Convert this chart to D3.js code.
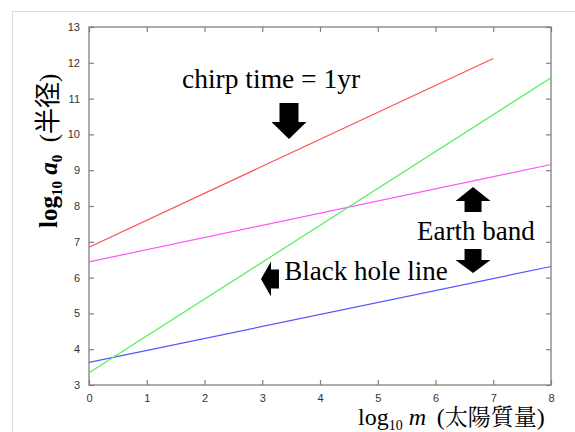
<!DOCTYPE html>
<html><head><meta charset="utf-8">
<script src="https://cdn.jsdelivr.net/npm/d3@7"></script>
<style>body{margin:0;background:#fff}svg{display:block}</style>
</head><body>
<script>
// ---- data ----
const xTicks = [0,1,2,3,4,5,6,7,8];
const yTicks = [3,4,5,6,7,8,9,10,11,12,13];
const chirpX = [0, 7],  chirpY = [6.85, 12.12];     // chirp time = 1yr (red)
const bandHiX = [0, 8], bandHiY = [6.44, 9.16];     // Earth band upper (magenta)
const bandLoX = [0, 8], bandLoY = [3.63, 6.31];     // Earth band lower (blue)
const bhX = [0, 8],     bhY = [3.34, 11.58];        // Black hole line (green)

const W = 575, H = 432;
const m = {l: 89, r: 551, t: 27, b: 385};
const svg = d3.select("body").append("svg").attr("width", W).attr("height", H);

svg.append("rect").attr("x", 12.5).attr("y", 11.5).attr("width", 700).attr("height", 600)
  .attr("fill", "none").attr("stroke", "#dcdcdc").attr("stroke-width", 1);

const x = d3.scaleLinear().domain([0, 8]).range([m.l, m.r]);
const y = d3.scaleLinear().domain([3, 13]).range([m.b, m.t]);

const axisColor = "#808080";
function styleAxis(g){
  g.select(".domain").remove();
  g.selectAll(".tick line").attr("stroke", axisColor).attr("stroke-width", 1.2);
  g.selectAll(".tick text").attr("fill", "#333").style("font-family", "'Liberation Sans', Arial, sans-serif").style("font-size", "11px");
}
svg.append("g").attr("transform", `translate(0,${m.b})`)
  .call(d3.axisBottom(x).tickValues(xTicks).tickSizeInner(-5).tickSizeOuter(0).tickPadding(9).tickFormat(d3.format("d")))
  .call(styleAxis);
svg.append("g").attr("transform", `translate(0,${m.t})`)
  .call(d3.axisTop(x).tickValues(xTicks).tickSizeInner(-5).tickSizeOuter(0).tickFormat(""))
  .call(styleAxis);
svg.append("g").attr("transform", `translate(${m.l},0)`)
  .call(d3.axisLeft(y).tickValues(yTicks).tickSizeInner(-5).tickSizeOuter(0).tickPadding(9).tickFormat(d3.format("d")))
  .call(styleAxis);
svg.append("g").attr("transform", `translate(${m.r},0)`)
  .call(d3.axisRight(y).tickValues(yTicks).tickSizeInner(-5).tickSizeOuter(0).tickFormat(""))
  .call(styleAxis);

svg.append("rect").attr("x", m.l).attr("y", m.t).attr("width", m.r - m.l).attr("height", m.b - m.t)
  .attr("fill", "none").attr("stroke", axisColor).attr("stroke-width", 1.3);

const line = d3.line().x(d => x(d[0])).y(d => y(d[1]));
const series = [
  {xs: chirpX, ys: chirpY, c: "#ff5050"},
  {xs: bandHiX, ys: bandHiY, c: "#ff55ff"},
  {xs: bandLoX, ys: bandLoY, c: "#5555ff"},
  {xs: bhX, ys: bhY, c: "#55ee55"}
];
series.forEach(s => {
  svg.append("path").attr("d", line(d3.zip(s.xs, s.ys))).attr("fill", "none")
    .attr("stroke", s.c).attr("stroke-width", 1.2);
});

// ---- annotations ----
const serif = "'Liberation Serif', 'Times New Roman', serif";
function label(txt, dx, dy, fs){
  svg.append("text").attr("x", x(dx)).attr("y", y(dy)).text(txt)
    .style("font-family", serif).style("font-size", fs + "px").attr("fill", "#000");
}
label("chirp time = 1yr", 1.61, 11.30, 27.5);
label("Earth band", 5.68, 7.05, 27);
label("Black hole line", 3.38, 5.92, 27);

// vertical arrow: tip at (tx,ty), dir=+1 down, -1 up
function vArrow(dx, dy, dir, headH, headW, stemW, stemL){
  const tx = x(dx), ty = y(dy);
  const hb = ty - dir*headH, sb = hb - dir*stemL;
  const pts = [[tx,ty],[tx+headW,hb],[tx+stemW,hb],[tx+stemW,sb],[tx-stemW,sb],[tx-stemW,hb],[tx-headW,hb]];
  svg.append("polygon").attr("points", pts.map(p=>p.join(",")).join(" ")).attr("fill","#000");
}
function hArrowLeft(dx, dy, headL, headH, stemH, stemL){
  const tx = x(dx), ty = y(dy);
  const hb = tx + headL, sb = hb + stemL;
  const pts = [[tx,ty],[hb,ty-headH],[hb,ty-stemH],[sb,ty-stemH],[sb,ty+stemH],[hb,ty+stemH],[hb,ty+headH]];
  svg.append("polygon").attr("points", pts.map(p=>p.join(",")).join(" ")).attr("fill","#000");
}
vArrow(3.463, 9.87, 1, 17, 17.5, 9.5, 19);
vArrow(6.65, 8.53, -1, 14, 17.5, 8.5, 11);
vArrow(6.65, 6.13, 1, 13, 17.5, 8.5, 11);
hArrowLeft(2.978, 5.96, 10, 17.5, 9.5, 8);

// ---- axis titles ----
const xt = svg.append("text").attr("x", 358).attr("y", 425)
  .style("font-family", serif).style("font-size", "24px").attr("fill", "#000");
xt.append("tspan").text("log");
xt.append("tspan").text("10").style("font-size", "14px").attr("dy", 5);
xt.append("tspan").text("\u00a0").attr("dy", -5);
xt.append("tspan").text("m").style("font-style", "italic");
xt.append("tspan").text("\u00a0\u2009(");
xt.append("tspan").text("太陽質量").style("font-family", "'Noto Serif CJK JP','Noto Sans CJK JP', serif").style("font-size", "23px");
xt.append("tspan").text(")");

const yt = svg.append("text").attr("transform", "translate(57,228) rotate(-90)")
  .style("font-family", serif).style("font-size", "25px").style("font-weight", "bold").attr("fill", "#000");
yt.append("tspan").text("log");
yt.append("tspan").text("10").style("font-size", "15px").attr("dy", 5);
yt.append("tspan").text("\u00a0").attr("dy", -5);
yt.append("tspan").text("a").style("font-style", "italic");
yt.append("tspan").text("0").style("font-size", "15px").attr("dy", 5);
yt.append("tspan").text("\u00a0\u00a0(").attr("dy", -5).style("font-weight","normal");
yt.append("tspan").text("半径").style("font-family", "'Noto Sans CJK JP', sans-serif").style("font-weight","normal").style("font-size","26px");
yt.append("tspan").text(")").style("font-weight","normal");
</script>
</body></html>
